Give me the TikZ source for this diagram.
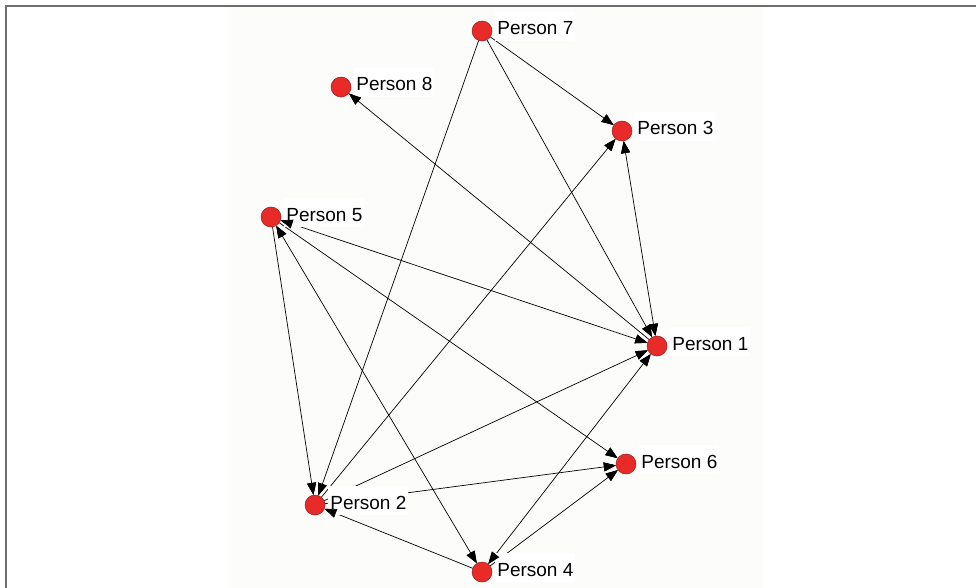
\documentclass[tikz,border=0pt]{standalone}
\usepackage{fontspec}
\setmainfont{Liberation Sans}
\usetikzlibrary{arrows.meta,calc}

\definecolor{nodered}{RGB}{232,42,40}
\definecolor{noderim}{RGB}{150,30,28}
\definecolor{panel}{RGB}{252,252,250}
\definecolor{rule}{RGB}{110,110,110}

\begin{document}
\begin{tikzpicture}[x=1pt, y=-1pt, line width=0.7pt,
  actor/.style={circle, fill=nodered, draw=noderim, line width=0.5pt, minimum size=20pt, inner sep=0pt},
  nametag/.style={anchor=base west, fill=white, inner xsep=2pt, inner ysep=1pt,
    text height=22pt, text depth=5pt, font=\fontsize{19}{22}\selectfont},
  tie/.style={-{Triangle[length=12pt,width=9pt]}},
  mutual/.style={{Triangle[length=12pt,width=9pt]}-{Triangle[length=12pt,width=9pt]}},
  tiponly/.style={line cap=butt, dash pattern=on 0pt off 5000pt}]
  \useasboundingbox (0,0) rectangle (976,588);
  \fill[panel] (228,7) rectangle (763,588);
  \draw[rule, line width=1.5pt] (6,588) -- (6,6) -- (976,6);

  % actors
  \node[actor] (p1) at (657,346) {};
  \node[actor] (p2) at (315,505) {};
  \node[actor] (p3) at (622,131) {};
  \node[actor] (p4) at (482,572) {};
  \node[actor] (p5) at (271,217) {};
  \node[actor] (p6) at (626,464) {};
  \node[actor] (p7) at (482,31) {};
  \node[actor] (p8) at (341,87) {};

  \def\ties{p7/p3/tie, p7/p1/tie, p7/p2/tie, p1/p8/tie, p5/p1/mutual, p3/p1/mutual,
    p2/p3/tie, p2/p1/tie, p4/p1/mutual, p5/p2/tie, p5/p4/mutual, p5/p6/tie,
    p2/p6/tie, p4/p6/tie, p4/p2/tie}

  % ties
  \foreach \a/\b/\k in \ties
    \draw[\k] (\a) -- (\b);

  % names
  \node[nametag] (n1) at ($(p1)+(13,4)$) {Person 1};
  \node[nametag] (n2) at ($(p2)+(13,4)$) {Person 2};
  \node[nametag] (n3) at ($(p3)+(13,4)$) {Person 3};
  \node[nametag] (n4) at ($(p4)+(13,4)$) {Person 4};
  \node[nametag] (n5) at ($(p5)+(13,4)$) {Person 5};
  \node[nametag] (n6) at ($(p6)+(13,4)$) {Person 6};
  \node[nametag] (n7) at ($(p7)+(13,4)$) {Person 7};
  \node[nametag] (n8) at ($(p8)+(13,4)$) {Person 8};

  % arrow heads stay above the names
  \foreach \a/\b/\k in \ties
    \draw[\k, tiponly] (\a) -- (\b);
\end{tikzpicture}
\end{document}
